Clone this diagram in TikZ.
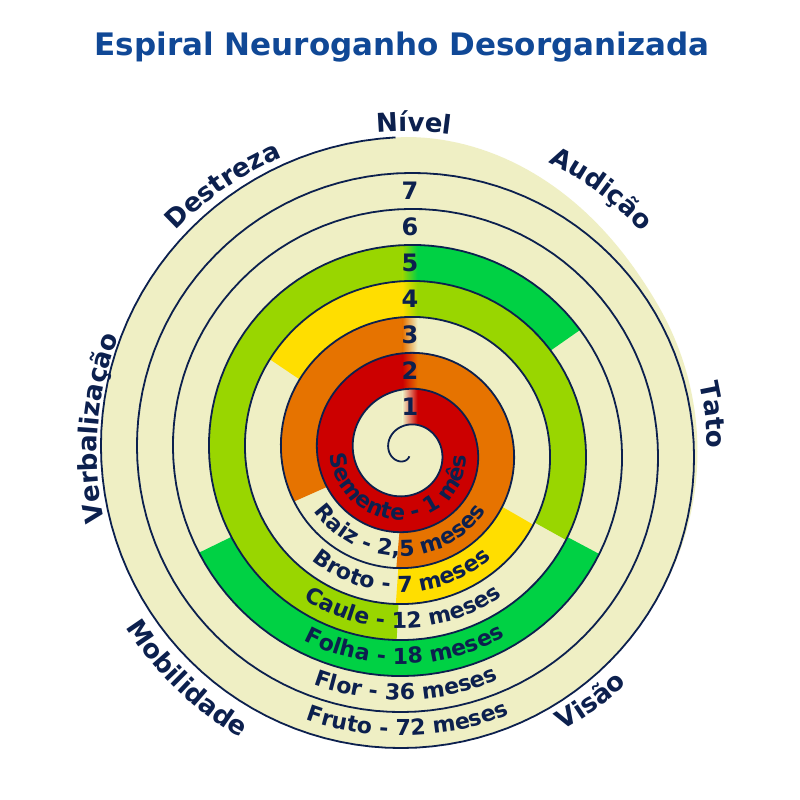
\documentclass[tikz,border=0pt]{standalone}
\usepackage{fontspec}
\setmainfont{DejaVu Sans}
\usetikzlibrary{decorations.text}
\definecolor{ink}{RGB}{12,32,78}
\definecolor{titleblue}{RGB}{16,72,150}
\definecolor{cream}{RGB}{239,239,196}
\definecolor{sred}{RGB}{204,0,0}
\definecolor{sorange}{RGB}{230,115,0}
\definecolor{syellow}{RGB}{255,222,0}
\definecolor{slime}{RGB}{153,214,0}
\definecolor{sgreen}{RGB}{0,209,68}
% strip between two turns of the spiral, from #1 to #2 degrees (clockwise)
\newcommand\band[2]{plot[domain=#1:#2,samples=90] ({-\x}:{35.5+\x/10}) -- plot[domain=#2:#1,samples=90] ({-\x}:{71.5+\x/10}) -- cycle}
\begin{document}
\begin{tikzpicture}[x=1pt,y=1pt,
  spiral/.style={draw=ink,line width=1.8pt,line join=round},
  num/.style={text=ink,font=\fontsize{24}{24}\selectfont\bfseries},
  bandlabel/.style={decorate,decoration={text along path,text align=center,text color=ink,text={|\fontsize{22}{22}\selectfont\bfseries|#1}}},
  outerlabel/.style={decorate,decoration={text along path,text align=center,text color=ink,text={|\fontsize{26}{26}\selectfont\bfseries|#1}}}]
  \useasboundingbox (-406.5,-348.5) rectangle (393.5,451.5);
  \fill[white] (-406.5,-348.5) rectangle (393.5,451.5);
  % disk
  \fill[cream] plot[domain=2555:2790,samples=80] ({-\x}:{35.5+\x/10})
    -- plot[domain=90:30,samples=40] (\x:{291+23.5*((\x-30)/60)*((\x-30)/60)*(3-2*(\x-30)/60)})
    -- plot[domain=30:-35,samples=40] (\x:291) -- cycle;
  % coloured parts of the strip
  \fill[sred] \band{-90}{270};
  \fill[sorange] \band{270}{455};
  \fill[sorange] \band{516}{630};
  \fill[syellow] \band{750}{814};
  \fill[syellow] \band{934}{990};
  \fill[slime] \band{990}{1109};
  \fill[slime] \band{1173}{1350};
  \fill[sgreen] \band{1350}{1405};
  \fill[sgreen] \band{1468}{1594};
  % blends under the level numbers
  \foreach \k/\cl/\cr in {0/cream/sred,1/sred/sorange,2/sorange/cream,3/syellow/slime,4/slime/sgreen}{
    \begin{scope}
      \pgfmathsetmacro\pa{-90+360*\k-25}
      \pgfmathsetmacro\pb{-90+360*\k+25}
      \clip \band{\pa}{\pb};
      \shade[left color=\cl,right color=\cr] (-4,{23.5+36*\k}) rectangle (11,{65.5+36*\k});
    \end{scope}
  }
  \draw[spiral] plot[domain=-300:2788,samples=1030] ({-\x}:{35.5+\x/10});
  % levels
  \foreach \k in {1,...,7}
    \node[num] (lvl\k) at (3.5,{44.5+36*(\k-1)}) {\k};
  % stages
  \path[bandlabel={Semente - 1 mês}] plot[domain=197.5:-22.5,samples=60] ({-\x}:{59.5+\x/10});
  \path[bandlabel={Raiz - 2,5 meses}] plot[domain=197.5:-22.5,samples=60] ({-\x}:{95.5+\x/10});
  \path[bandlabel={Broto - 7 meses}] plot[domain=197.5:-22.5,samples=60] ({-\x}:{131.5+\x/10});
  \path[bandlabel={Caule - 12 meses}] plot[domain=197.5:-22.5,samples=60] ({-\x}:{167.5+\x/10});
  \path[bandlabel={Folha - 18 meses}] plot[domain=197.5:-22.5,samples=60] ({-\x}:{203.5+\x/10});
  \path[bandlabel={Flor - 36 meses}] plot[domain=197.5:-22.5,samples=60] ({-\x}:{239.5+\x/10});
  \path[bandlabel={Fruto - 72 meses}] plot[domain=197.5:-22.5,samples=60] ({-\x}:{275.5+\x/10});
  % senses round the disk
  \path[outerlabel={Nível}] (128.7:320) arc[start angle=128.7,end angle=48.7,radius=320];
  \path[outerlabel={Destreza}] (164.6:319) arc[start angle=164.6,end angle=84.6,radius=319];
  \path[outerlabel={Audição}] (93.4:322) arc[start angle=93.4,end angle=13.4,radius=322];
  \path[outerlabel={Tato}] (46.8:301) arc[start angle=46.8,end angle=-33.2,radius=301];
  \path[outerlabel={Verbalização}] (225.6:309.5) arc[start angle=225.6,end angle=125.6,radius=309.5];
  \path[outerlabel={Mobilidade}] (-184:331) arc[start angle=-184,end angle=-84,radius=331];
  \path[outerlabel={Visão}] (-103.6:320) arc[start angle=-103.6,end angle=-3.6,radius=320];
  \node[text=titleblue,font=\fontsize{31}{31}\selectfont\bfseries] (title) at (-4.5,404.5) {Espiral Neuroganho Desorganizada};
\end{tikzpicture}
\end{document}
